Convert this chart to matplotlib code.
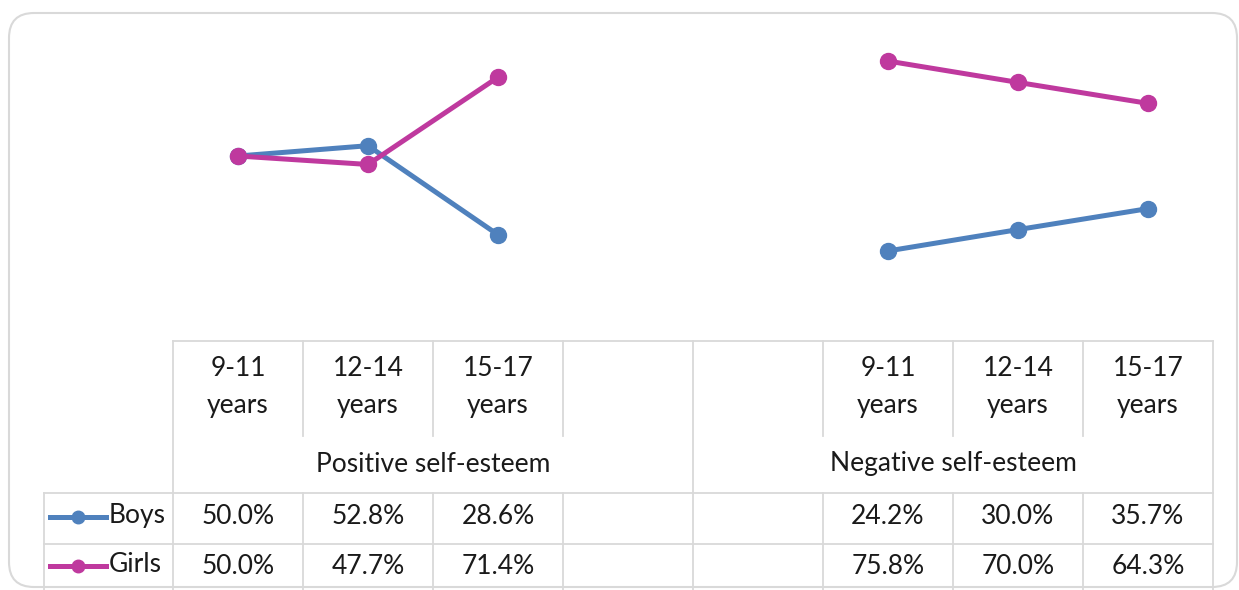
import numpy as np
import matplotlib
matplotlib.use("Agg")
import matplotlib.pyplot as plt
from matplotlib.patches import FancyBboxPatch
from matplotlib.lines import Line2D

# data
age_groups = ["9-11\nyears", "12-14\nyears", "15-17\nyears", "", "", "9-11\nyears", "12-14\nyears", "15-17\nyears"]
groups = ["Positive self-esteem", "Negative self-esteem"]
boys = [50.0, 52.8, 28.6, np.nan, np.nan, 24.2, 30.0, 35.7]
girls = [50.0, 47.7, 71.4, np.nan, np.nan, 75.8, 70.0, 64.3]
series_names = ["Boys", "Girls"]
colors = ["#4F81BD", "#BF399E"]

W, H = 1239, 590
fig = plt.figure(figsize=(W / 100, H / 100), dpi=100)
plt.rcParams['font.family'] = ['Lato', 'DejaVu Sans']

# pixel-space overlay for frame and table
bg = fig.add_axes([0, 0, 1, 1])
bg.set_xlim(0, W)
bg.set_ylim(H, 0)
bg.axis("off")

frame = FancyBboxPatch((9 + 25, 13 + 25), 1228 - 50, 574 - 50,
                       boxstyle="round,pad=25", fc="white", ec="#d9d9d9", lw=1.5)
bg.add_patch(frame)

# line chart axes: x over table columns, y from table top
col_left, col_w = 173, 130
n = len(age_groups)
y0_px, top_px = 340, 20
scale = 3.68
ax = fig.add_axes([col_left / W, (H - y0_px) / H, n * col_w / W, (y0_px - top_px) / H])
ax.set_xlim(-0.5, n - 0.5)
ax.set_ylim(0, (y0_px - top_px) / scale)
ax.axis("off")
x = np.arange(n)
for vals, c in zip([boys, girls], colors):
    ax.plot(x, vals, color=c, lw=3.6, marker="o", ms=11.5, solid_capstyle="round")

# table
gc = "#d9d9d9"
lw = 1.3
t_top, t_mid, t_grp, r1, r2 = 341, 436, 493, 544, 595
right = col_left + n * col_w
legend_left = 44
bg.plot([col_left, right], [t_top, t_top], color=gc, lw=lw)
bg.plot([legend_left, right], [t_grp, t_grp], color=gc, lw=lw)
bg.plot([legend_left, right], [r1, r1], color=gc, lw=lw)
bg.plot([legend_left, legend_left], [t_grp, r2], color=gc, lw=lw)
for i in range(n + 1):
    xp = col_left + i * col_w
    if i in (0, 4, 8):
        bg.plot([xp, xp], [t_top, r2], color=gc, lw=lw)
    else:
        bg.plot([xp, xp], [t_top, t_mid], color=gc, lw=lw)
        bg.plot([xp, xp], [t_grp, r2], color=gc, lw=lw)

fs = 19
tc = "#1a1a1a"
for i, lab in enumerate(age_groups):
    xc = col_left + (i + 0.5) * col_w
    if lab:
        top, bot = lab.split("\n")
        bg.text(xc, 368, top, ha="center", va="center", fontsize=fs, color=tc)
        bg.text(xc, 406, bot, ha="center", va="center", fontsize=fs, color=tc)
for g, lab in enumerate(groups):
    xc = col_left + (g * 4 + 2) * col_w
    bg.text(xc, 464, lab, ha="center", va="center", fontsize=fs, color=tc)

for r, (name, vals, c) in enumerate(zip(series_names, [boys, girls], colors)):
    yc = 517 + r * 49
    bg.add_line(Line2D([50, 106], [yc, yc], color=c, lw=3.6))
    bg.add_line(Line2D([78], [yc], color=c, marker="o", ms=9))
    bg.text(109, yc - 2, name, ha="left", va="center", fontsize=fs, color=tc)
    for i, v in enumerate(vals):
        if not np.isnan(v):
            bg.text(col_left + (i + 0.5) * col_w, yc, f"{v:.1f}%",
                    ha="center", va="center", fontsize=fs, color=tc)

fig.savefig("out.png", dpi=100, facecolor="white")
